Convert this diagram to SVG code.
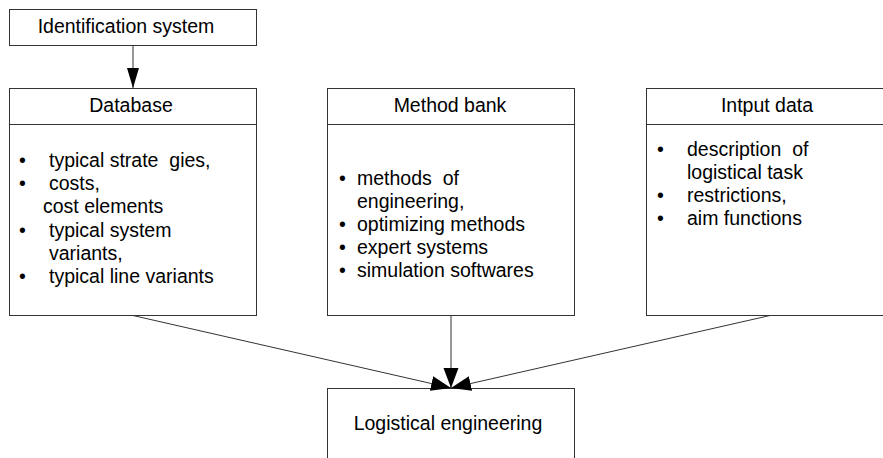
<svg xmlns="http://www.w3.org/2000/svg" width="883" height="458" viewBox="0 0 883 458">
<style>
.box{fill:#fff;stroke:#333;stroke-width:1}
.div{stroke:#333;stroke-width:1}
.t{font-family:"Liberation Sans",Arial,sans-serif;font-size:19.5px;fill:#000}
.c{text-anchor:middle}
.conn{stroke:#333;stroke-width:1;fill:none}
</style>
<defs>
<marker id="ah" markerUnits="userSpaceOnUse" markerWidth="20" markerHeight="16" refX="20" refY="8" orient="auto">
<path d="M0,0.5 L20,8 L0,15.5 z" fill="#000"/>
</marker>
<marker id="ah2" markerUnits="userSpaceOnUse" markerWidth="20" markerHeight="14" refX="20" refY="7" orient="auto">
<path d="M0,1 L20,7 L0,13 z" fill="#000"/>
</marker>
</defs>
<rect width="883" height="458" fill="#fff"/>
<g id="identification">
<rect class="box" x="9.5" y="9.5" width="247" height="36"/>
<text class="t c" x="126" y="33">Identification system</text>
</g>
<g id="database">
<rect class="box" x="9.5" y="88.5" width="247" height="227"/>
<line class="div" x1="9.5" y1="124.5" x2="256.5" y2="124.5"/>
<text class="t c" x="131" y="112">Database</text>
<text class="t" x="19" y="167">•</text><text class="t" x="49" y="167">typical strate&#160; gies,</text>
<text class="t" x="19" y="190">•</text><text class="t" x="49" y="190">costs,</text>
<text class="t" x="43" y="213">cost elements</text>
<text class="t" x="19" y="237">•</text><text class="t" x="49" y="237">typical system</text>
<text class="t" x="49" y="260">variants,</text>
<text class="t" x="19" y="283">•</text><text class="t" x="49" y="283">typical line variants</text>
</g>
<g id="methodbank">
<rect class="box" x="327.5" y="88.5" width="247" height="227"/>
<line class="div" x1="327.5" y1="124.5" x2="574.5" y2="124.5"/>
<text class="t c" x="450" y="112">Method bank</text>
<text class="t" x="339" y="185">•</text><text class="t" x="357" y="185">methods&#160; of</text>
<text class="t" x="357" y="208">engineering,</text>
<text class="t" x="339" y="231">•</text><text class="t" x="357" y="231">optimizing methods</text>
<text class="t" x="339" y="254">•</text><text class="t" x="357" y="254">expert systems</text>
<text class="t" x="339" y="277">•</text><text class="t" x="357" y="277">simulation softwares</text>
</g>
<g id="inputdata">
<rect class="box" x="646.5" y="88.5" width="247" height="227"/>
<line class="div" x1="646.5" y1="124.5" x2="883" y2="124.5"/>
<text class="t c" x="767" y="112">Intput data</text>
<text class="t" x="657" y="156">•</text><text class="t" x="687" y="156">description&#160; of</text>
<text class="t" x="687" y="179">logistical task</text>
<text class="t" x="657" y="202">•</text><text class="t" x="687" y="202">restrictions,</text>
<text class="t" x="657" y="225">•</text><text class="t" x="687" y="225">aim functions</text>
</g>
<g id="logistical">
<rect class="box" x="327.5" y="388.5" width="247" height="100"/>
<text class="t c" x="448" y="430">Logistical engineering</text>
</g>
<g id="connectors">
<line class="conn" x1="133" y1="45.5" x2="133" y2="88" marker-end="url(#ah2)"/>
<line class="conn" x1="451" y1="315.5" x2="451" y2="388" marker-end="url(#ah)"/>
<line class="conn" x1="133" y1="315.5" x2="451" y2="388" marker-end="url(#ah)"/>
<line class="conn" x1="770" y1="315.5" x2="451" y2="388" marker-end="url(#ah)"/>
</g>
</svg>
